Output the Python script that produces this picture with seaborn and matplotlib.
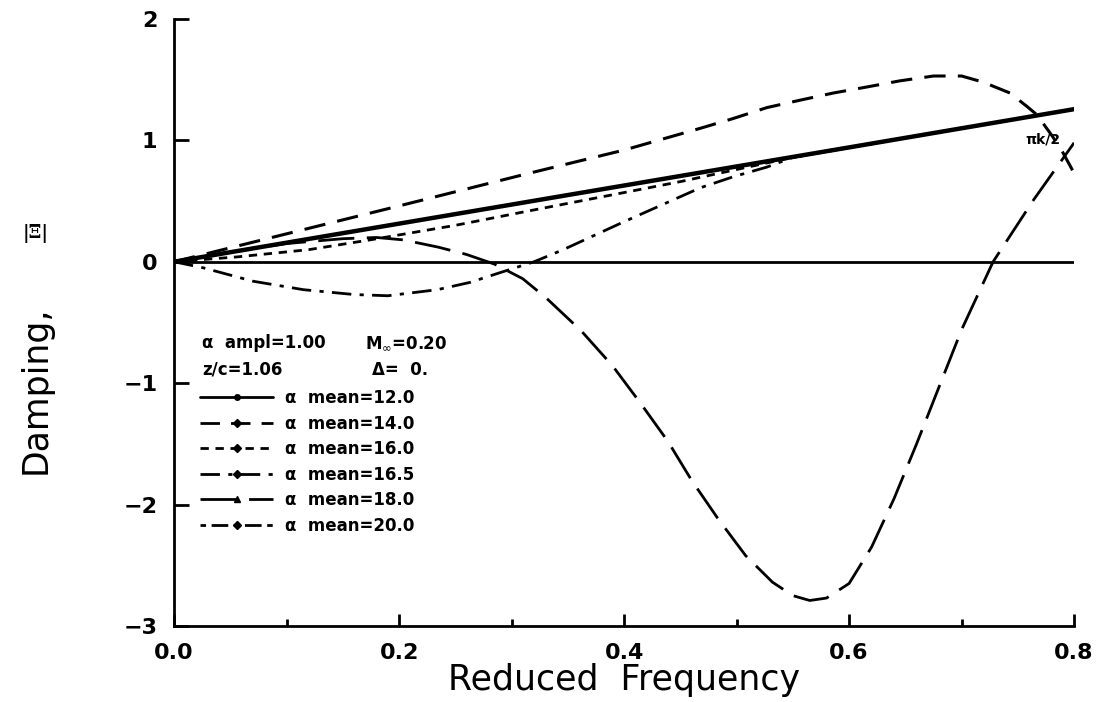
import numpy as np
import pandas as pd
import matplotlib
matplotlib.use("Agg")
import matplotlib.pyplot as plt
import seaborn as sns
from matplotlib.lines import Line2D

# ---- data (reduced frequency k, damping) ----
k_mean12 = [0.0, 0.2, 0.4, 0.6, 0.8]
d_mean12 = [0.0, 0.314, 0.628, 0.942, 1.257]

k_mean14 = [0.0, 0.1, 0.2, 0.316, 0.4, 0.468, 0.497, 0.527, 0.556, 0.586, 0.616,
            0.645, 0.675, 0.70, 0.719, 0.743, 0.758, 0.767, 0.781, 0.79, 0.8]
d_mean14 = [0.0, 0.23, 0.46, 0.73, 0.92, 1.10, 1.18, 1.27, 1.33, 1.39, 1.44,
            1.49, 1.53, 1.53, 1.48, 1.39, 1.28, 1.21, 1.03, 0.90, 0.73]

k_mean16 = [0.0, 0.056, 0.12, 0.174, 0.25, 0.316, 0.4, 0.45, 0.5, 0.55, 0.6, 0.7, 0.8]
d_mean16 = [0.0, 0.04, 0.10, 0.18, 0.30, 0.42, 0.57, 0.66, 0.76, 0.86, 0.94, 1.10, 1.257]

k_mean165 = [0.0, 0.026, 0.07, 0.115, 0.16, 0.19, 0.234, 0.263, 0.293, 0.32, 0.346,
             0.4, 0.468, 0.497, 0.527, 0.55, 0.6, 0.7, 0.8]
d_mean165 = [0.0, -0.05, -0.16, -0.23, -0.27, -0.28, -0.23, -0.17, -0.08, 0.0, 0.10,
             0.33, 0.61, 0.70, 0.78, 0.86, 0.94, 1.10, 1.257]

k_mean18 = [0.0, 0.05, 0.1, 0.15, 0.18, 0.204, 0.235, 0.26, 0.285, 0.31, 0.331, 0.362,
            0.39, 0.415, 0.439, 0.46, 0.483, 0.508, 0.532, 0.55, 0.565, 0.58, 0.60,
            0.62, 0.64, 0.66, 0.68, 0.70, 0.728, 0.764, 0.80]
d_mean18 = [0.0, 0.08, 0.15, 0.19, 0.20, 0.18, 0.12, 0.06, -0.02, -0.14, -0.30, -0.57,
            -0.86, -1.17, -1.48, -1.80, -2.11, -2.42, -2.64, -2.75, -2.79, -2.77, -2.65,
            -2.35, -1.95, -1.50, -1.03, -0.56, 0.0, 0.51, 0.98]

legend_labels = ["α  mean=12.0", "α  mean=14.0", "α  mean=16.0",
                 "α  mean=16.5", "α  mean=18.0", "α  mean=20.0"]

# ---- style ----
sns.set_style("ticks")
plt.rcParams["font.family"] = ["DejaVu Sans"]
plt.rcParams.update({
    "axes.linewidth": 2.0,
    "text.color": "black",
    "axes.labelcolor": "black",
    "axes.edgecolor": "black",
    "xtick.color": "black",
    "ytick.color": "black",
})

fig = plt.figure(figsize=(11.03, 7.02), dpi=100)
ax = fig.add_axes([0.1578, 0.1083, 0.8160, 0.8647])

ls12 = "-"
ls14 = (0, (7, 4))
ls16 = (0, (3, 2.4))
ls165 = (0, (7, 3, 1.5, 3))
ls18 = (0, (13, 4.5))
ls20 = (0, (2, 2, 6, 2))

curves = [
    (k_mean12, d_mean12, ls12, 3.2),
    (k_mean14, d_mean14, ls14, 2.2),
    (k_mean16, d_mean16, ls16, 2.0),
    (k_mean165, d_mean165, ls165, 2.0),
    (k_mean18, d_mean18, ls18, 2.0),
]
for kk, dd, ls, lw in curves:
    sns.lineplot(x=kk, y=dd, ax=ax, color="black", linestyle=ls, linewidth=lw,
                 sort=False, estimator=None)

ax.axhline(0, color="black", lw=2.0)

ax.set_xlim(0, 0.8)
ax.set_ylim(-3, 2)
ax.set_xticks([0.0, 0.2, 0.4, 0.6, 0.8])
ax.set_xticklabels(["0.0", "0.2", "0.4", "0.6", "0.8"])
ax.set_xticks([0.1, 0.3, 0.5, 0.7], minor=True)
ax.set_yticks([-3, -2, -1, 0, 1, 2])
ax.tick_params(axis="both", which="major", direction="in", width=2, labelsize=16, pad=12)
ax.tick_params(axis="y", which="major", length=11)
ax.tick_params(axis="x", which="major", length=9)
ax.tick_params(axis="x", which="minor", direction="in", width=2, length=5)
for lab in ax.get_xticklabels() + ax.get_yticklabels():
    lab.set_fontweight("bold")
sns.despine(ax=ax)

ax.set_xlabel("Reduced  Frequency", fontsize=25, labelpad=0)
ax.set_ylabel("")
fig.text(0.032, 1 - 390 / 702, "Damping,", rotation=90, fontsize=25,
         ha="center", va="center")
fig.text(0.032, 1 - 234 / 702, "|Ξ|", rotation=0, fontsize=13, fontweight="bold",
         family="DejaVu Serif", ha="center", va="center")

ax.text(0.7724, 1.01, "πk/2", fontsize=10, fontweight="bold",
        ha="center", va="center", transform=ax.transData)

# parameter header above the legend
hdr = dict(fontsize=12, fontweight="bold", transform=ax.transAxes, va="center")
ax.text(0.031, 0.466, "α  ampl=1.00", **hdr)
ax.text(0.212, 0.466, r"M$_\infty$=0.20", **hdr)
ax.text(0.031, 0.422, "z/c=1.06", **hdr)
ax.text(0.22, 0.422, "Δ=  0.", **hdr)

handles = [
    Line2D([], [], color="k", ls=ls12, lw=2, marker="o", ms=4),
    Line2D([], [], color="k", ls=ls14, lw=2, marker="D", ms=4),
    Line2D([], [], color="k", ls=ls16, lw=2, marker="D", ms=4),
    Line2D([], [], color="k", ls=ls165, lw=2, marker="D", ms=4),
    Line2D([], [], color="k", ls=ls18, lw=2, marker="^", ms=4),
    Line2D([], [], color="k", ls=ls20, lw=2, marker="D", ms=4),
]
leg = ax.legend(handles, legend_labels, loc="upper left", bbox_to_anchor=(0.029, 0.39),
                frameon=False, numpoints=1, handlelength=4.4, handletextpad=0.7,
                labelspacing=0.45, borderpad=0, borderaxespad=0,
                prop={"weight": "bold", "size": 12})

fig.savefig("out.png", dpi=100)
